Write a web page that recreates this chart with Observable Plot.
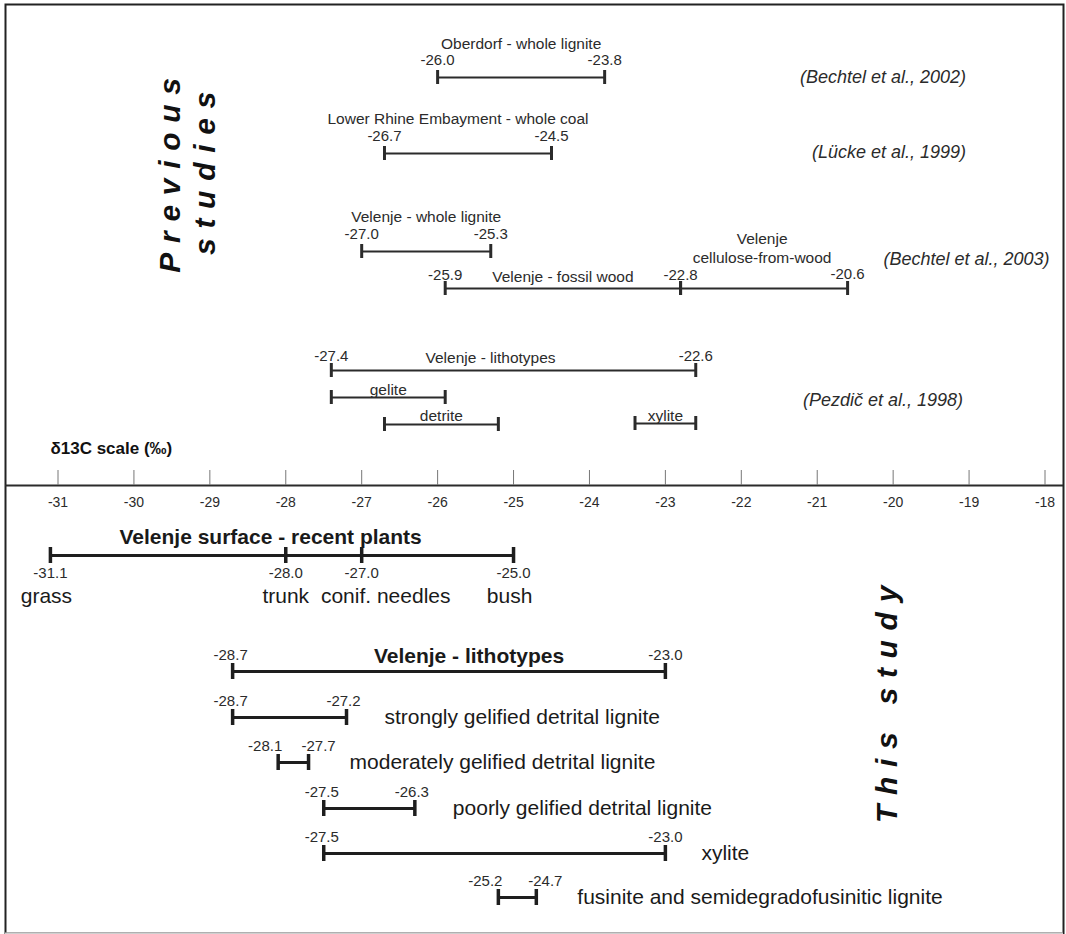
<!DOCTYPE html>
<html><head><meta charset="utf-8">
<script src="https://cdn.jsdelivr.net/npm/d3@7"></script>
<script src="https://cdn.jsdelivr.net/npm/@observablehq/plot@0.6"></script>
<style>
html,body{margin:0;padding:0;background:#fff;}
#chart svg{display:block;}
</style></head><body><div id="chart"></div>
<script>
// ---------- DATA ----------
// axis tick labels (δ13C, ‰)
const axisTicks = [-31, -30, -29, -28, -27, -26, -25, -24, -23, -22, -21, -20, -19, -18];

// Previous studies
const prevNames = ["Oberdorf - whole lignite", "Lower Rhine Embayment - whole coal", "Velenje - whole lignite",
  "Velenje - fossil wood", "Velenje\ncellulose-from-wood", "Velenje - lithotypes", "gelite", "detrite", "xylite"];
const prevMin = [-26.0, -26.7, -27.0, -25.9, -22.8, -27.4, -27.4, -26.7, -23.4];
const prevMax = [-23.8, -24.5, -25.3, -22.8, -20.6, -22.6, -25.9, -25.2, -22.6];
const prevLabelMin = [true, true, true, true, false, true, false, false, false];
const prevLabelMax = [true, true, true, true, true, true, false, false, false];

const citations = ["(Bechtel et al., 2002)", "(Lücke et al., 1999)", "(Bechtel et al., 2003)", "(Pezdič et al., 1998)"];

// This study: Velenje surface - recent plants
const surfaceTitle = "Velenje surface - recent plants";
const surfaceNames = ["grass", "trunk", "conif. needles", "bush"];
const surfaceValues = [-31.1, -28.0, -27.0, -25.0];

// This study: lithotypes
const thisNames = ["Velenje - lithotypes", "strongly gelified detrital lignite", "moderately gelified detrital lignite",
  "poorly gelified detrital lignite", "xylite", "fusinite and semidegradofusinitic lignite"];
const thisMin = [-28.7, -28.7, -28.1, -27.5, -27.5, -25.2];
const thisMax = [-23.0, -27.2, -27.7, -26.3, -23.0, -24.7];

const sideTitles = ["Previous", "studies", "This study"];
const scaleLabel = "δ13C scale (‰)";

// ---------- LAYOUT (vertical levels in px, horizontal offsets in px) ----------
const W = 1066, H = 934;
const xRange = [57.5, 1044.5];
const pxPerUnit = (xRange[1] - xRange[0]) / 13;
const off = px => px / pxPerUnit;          // pixel offset -> scale units
const axisLevel = 485;
const prevBarY   = [77, 153, 251, 288, 288, 370, 397, 424, 423];
const prevNameY  = [42, 117, 215, 275, 247, 356, 388, 414, 414];
const prevNameDx = [0, -10, 0, 0, -2, -23, 0, 0, 0];
const prevValY   = [60, 136, 234, 275, 274, 356, 0, 0, 0];
const citeY = [77, 152, 259, 400];
const citeX = [-19.04, -19.04, -17.94, -19.08];
const surfaceBarY = 555, surfaceValY = 573, surfaceNameY = 596, surfaceTitleY = 537;
const surfaceTitleX = -28.2;
const surfaceNameDx = [-4, 0, 24, -4];
const thisBarY = [671, 717, 762, 808, 853, 897];
const thisNameDx = [20, 38, 41, 38, 36, 41];
const thisLoValDx = [-2, -2, -13, -2, -2, -13];
const thisHiValDx = [0, -3, 10, -3, 0, 9];
const sideX = [-29.52, -29.06, -20.07];
const sideY = [170, 168, 699];

// ---------- BUILD ----------
const ink = "#2b2b2b";
const dark = "#1e1e1e";
const fmt = v => v.toFixed(1);

const prevRows = prevNames.map((name, i) => ({name, lo: prevMin[i], hi: prevMax[i], y: prevBarY[i],
  nx: (prevMin[i] + prevMax[i]) / 2 + off(prevNameDx[i]), ny: prevNameY[i], vy: prevValY[i]}));
const prevEnds = prevRows.flatMap(r => [{x: r.lo, y: r.y}, {x: r.hi, y: r.y}]);
const prevVals = prevRows.flatMap((r, i) => [
  ...(prevLabelMin[i] ? [{v: r.lo, y: r.vy}] : []),
  ...(prevLabelMax[i] ? [{v: r.hi, y: r.vy}] : [])]);
const citeRows = citations.map((t, i) => ({t, x: citeX[i], y: citeY[i]}));

const surfRows = surfaceNames.map((n, i) => ({n, v: surfaceValues[i], nx: surfaceValues[i] + off(surfaceNameDx[i])}));
const thisRows = thisNames.map((name, i) => ({name, lo: thisMin[i], hi: thisMax[i], y: thisBarY[i], i,
  nx: i === 0 ? (thisMin[i] + thisMax[i]) / 2 + off(thisNameDx[i]) : thisMax[i] + off(thisNameDx[i])}));
const thisEnds = thisRows.flatMap(r => [{x: r.lo, y: r.y}, {x: r.hi, y: r.y}]);
const thisVals = thisRows.flatMap((r, i) => [
  {v: r.lo, x: r.lo + off(thisLoValDx[i]), y: r.y - 16},
  {v: r.hi, x: r.hi + off(thisHiValDx[i]), y: r.y - 16}]);
const sideRows = sideTitles.map((t, i) => ({t, x: sideX[i], y: sideY[i]}));

const font = "Liberation Sans, Arial, Helvetica, sans-serif";

const chart = Plot.plot({
  width: W, height: H,
  marginLeft: 5, marginRight: 3, marginTop: 4, marginBottom: 1,
  style: {fontFamily: font, background: "#fff", color: ink},
  x: {domain: [-31, -18], range: xRange, axis: null},
  y: {domain: [0, H], range: [0, H], axis: null},
  marks: [
    Plot.frame({stroke: "#222", strokeWidth: 2}),
    Plot.ruleY([H - 1], {y: d => d, stroke: "#cfcfcf", strokeWidth: 2}),
    // axis
    Plot.ruleY([axisLevel], {y: d => d, stroke: ink, strokeWidth: 2}),
    Plot.ruleX(axisTicks, {x: d => d, y1: axisLevel - 15, y2: axisLevel, stroke: "#777", strokeWidth: 1}),
    Plot.text(axisTicks, {x: d => d, y: axisLevel + 17, text: d => String(d), fontSize: 14, fill: ink}),
    Plot.text([scaleLabel], {x: -31.1, y: 448, text: d => d, fontSize: 17, fontWeight: "bold", textAnchor: "start", fill: "#111"}),

    // previous studies
    Plot.ruleY(prevRows, {y: "y", x1: "lo", x2: "hi", stroke: ink, strokeWidth: 2}),
    Plot.ruleX(prevEnds, {x: "x", y1: d => d.y - 7, y2: d => d.y + 7, stroke: ink, strokeWidth: 3}),
    Plot.text(prevRows, {x: "nx", y: "ny", text: "name", fontSize: 15.5, lineHeight: 1.22, fill: ink}),
    Plot.text(prevVals, {x: "v", y: "y", text: d => fmt(d.v), fontSize: 15, fill: ink}),
    Plot.text(citeRows, {x: "x", y: "y", text: "t", textAnchor: "end", fontSize: 18, fontStyle: "italic", fill: ink}),

    // this study - surface plants
    Plot.ruleY([surfaceValues], {y: surfaceBarY, x1: d => d3.min(d), x2: d => d3.max(d), stroke: dark, strokeWidth: 3}),
    Plot.ruleX(surfaceValues, {x: d => d, y1: surfaceBarY - 8, y2: surfaceBarY + 8, stroke: dark, strokeWidth: 3.5}),
    Plot.text([surfaceTitle], {x: surfaceTitleX, y: surfaceTitleY, text: d => d, fontSize: 21, fontWeight: "bold", fill: "#1a1a1a"}),
    Plot.text(surfRows, {x: "v", y: surfaceValY, text: d => fmt(d.v), fontSize: 15, fill: ink}),
    Plot.text(surfRows, {x: "nx", y: surfaceNameY, text: "n", fontSize: 21, fill: "#1a1a1a"}),

    // this study - lithotypes
    Plot.ruleY(thisRows, {y: "y", x1: "lo", x2: "hi", stroke: dark, strokeWidth: 3}),
    Plot.ruleX(thisEnds, {x: "x", y1: d => d.y - 8, y2: d => d.y + 8, stroke: dark, strokeWidth: 3.5}),
    Plot.text(thisVals, {x: "x", y: "y", text: d => fmt(d.v), fontSize: 15, fill: ink}),
    Plot.text(thisRows.filter(r => r.i === 0), {x: "nx", y: d => d.y - 15, text: "name", fontSize: 21, fontWeight: "bold", fill: "#1a1a1a"}),
    Plot.text(thisRows.filter(r => r.i > 0), {x: "nx", y: "y", text: "name", textAnchor: "start", fontSize: 21, fill: "#1a1a1a"}),

    // side titles
    Plot.text(sideRows, {x: "x", y: "y", text: "t", rotate: -90, fontSize: 30, fontWeight: "bold", fontStyle: "italic", fill: "#111"})
  ]
});

d3.select(chart).selectAll("text")
  .filter(function() { return sideTitles.includes(this.textContent); })
  .style("letter-spacing", "9.7px");

document.getElementById("chart").appendChild(chart);
</script></body></html>
